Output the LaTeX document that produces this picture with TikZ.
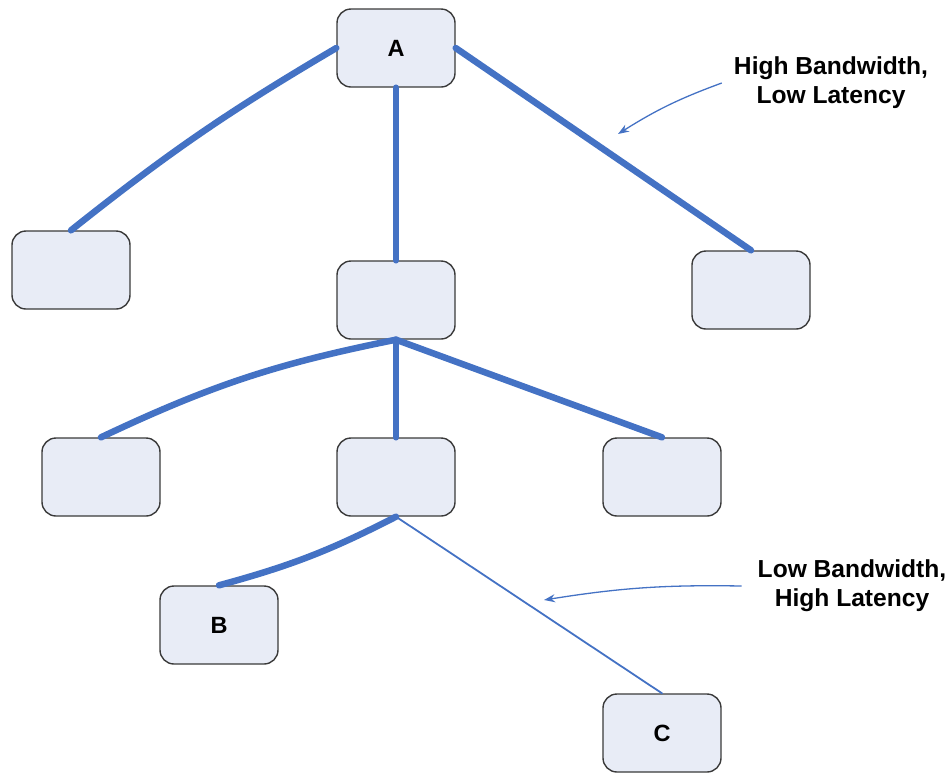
\documentclass[tikz,border=0pt]{standalone}
\usepackage{fontspec}
\setmainfont{Liberation Sans}
\usetikzlibrary{arrows.meta}
\definecolor{linkblue}{HTML}{4472C4}
\definecolor{boxfill}{HTML}{E8ECF6}
\definecolor{boxedge}{HTML}{3A3A3A}
\begin{document}
\begin{tikzpicture}[x=1pt,y=-1pt,
  tree/.style={draw=boxedge,line width=1.4pt,fill=boxfill,rounded corners=14pt,
    minimum width=118pt,minimum height=78pt,inner sep=0pt,
    font=\fontsize{23.5}{26}\selectfont\bfseries},
  fatlink/.style={draw=linkblue,line width=6.5pt,line cap=round},
  thinlink/.style={draw=linkblue,line width=1.8pt,line cap=round},
  callout/.style={draw=linkblue,line width=1.3pt,-{Stealth[length=11pt,width=8pt]}},
  note/.style={align=center,inner sep=0pt,font=\fontsize{24.6}{29}\selectfont\bfseries}]
\useasboundingbox (0,0) rectangle (951,772);

% tree nodes
\node[tree] (a)  at (396,48)  {A};
\node[tree] (l1) at (71,270)  {};
\node[tree] (m1) at (396,300) {};
\node[tree] (r1) at (751,290) {};
\node[tree] (l2) at (101,477) {};
\node[tree] (m2) at (396,477) {};
\node[tree] (r2) at (662,477) {};
\node[tree] (b)  at (219,625) {B};
\node[tree] (c)  at (662,733) {C};

% links
\draw[fatlink] (a.west) to[bend right=4] (l1.north);
\draw[fatlink] (a.south) -- (m1.north);
\draw[fatlink] (a.east) -- (r1.north);
\draw[fatlink] (m1.south) to[bend right=7] (l2.north);
\draw[fatlink] (m1.south) -- (m2.north);
\draw[fatlink] (m1.south) -- (r2.north);
\draw[fatlink] (m2.south) to[bend left=6] (b.north);
\draw[thinlink] (m2.south) -- (c.north);

% annotations
\node[note] (hb) at (831,83) {High Bandwidth,\\Low Latency};
\node[note] (lb) at (852,586) {Low Bandwidth,\\High Latency};
\coordinate (hbtip) at (618,134);
\coordinate (lbtip) at (544,600);
\draw[callout] (hb.west) ++(-12,0) coordinate (hbs) (hbs) to[bend right=6] (hbtip);
\draw[callout] (lb.west) ++(-16,0) coordinate (lbs) (lbs) to[bend right=5] (lbtip);
\end{tikzpicture}
\end{document}
